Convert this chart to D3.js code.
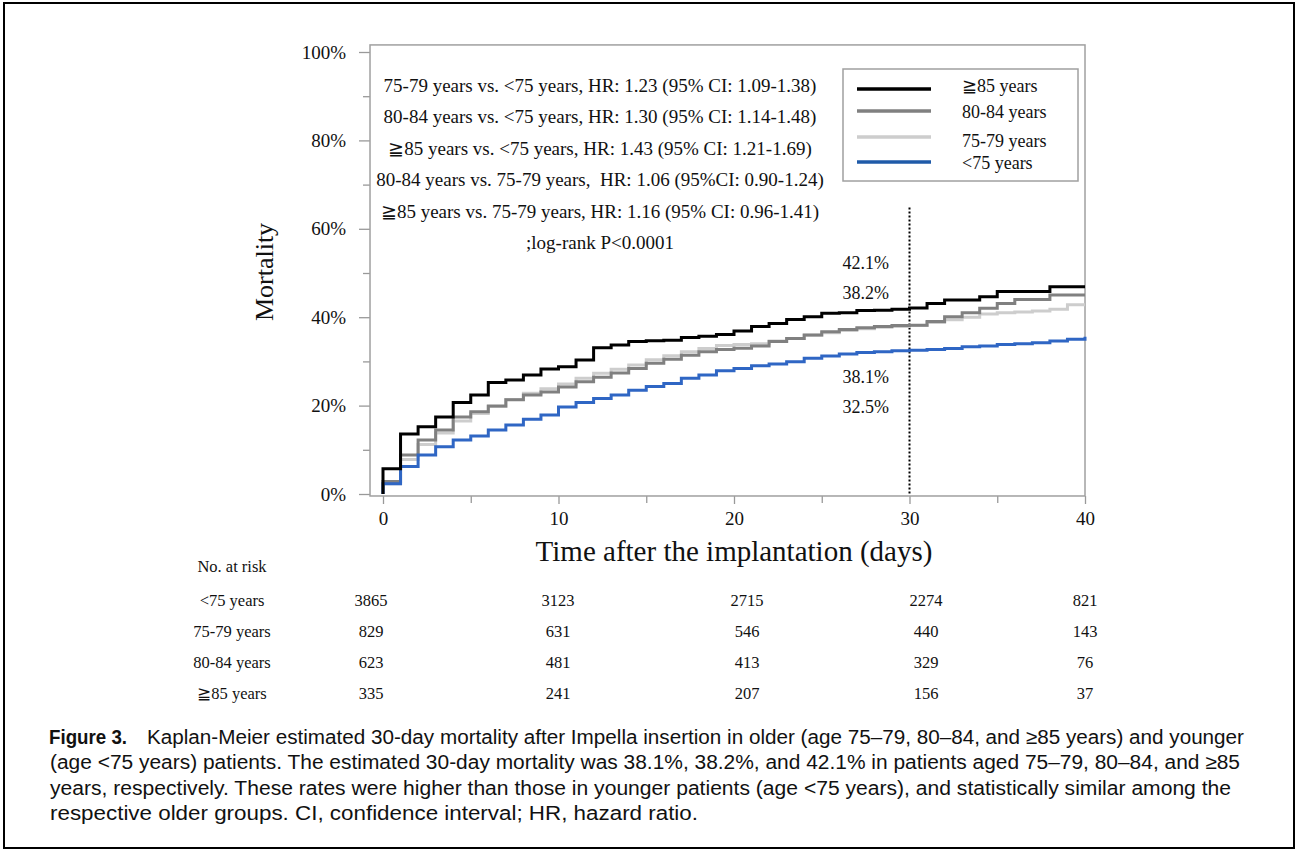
<!DOCTYPE html>
<html>
<head>
<meta charset="utf-8">
<script src="https://cdn.jsdelivr.net/npm/d3@7"></script>
<style>
  html, body { margin: 0; padding: 0; background: #fff; }
  svg { display: block; }
  .serif { font-family: "Liberation Serif", "Times New Roman", serif; fill: #111; }
  .axis text { font-family: "Liberation Serif", "Times New Roman", serif; font-size: 19px; fill: #111; }
  .axis line { stroke: #999; }
  .axis path { display: none; }
</style>
</head>
<body>
<svg id="viz" width="1298" height="857"></svg>
<script>
// Days 0..40, cumulative mortality (%) after each daily step
const days = d3.range(0, 41);
const groups = ["≧85 years", "80-84 years", "75-79 years", "<75 years"];
const mort85 = [5.7,13.6,15.2,17.4,20.7,22.4,25.2,25.8,26.9,28.3,28.8,
  30.3,33.1,33.7,34.5,34.7,34.8,35.4,35.7,36.1,36.9,
  37.9,38.6,39.5,40.1,40.9,41.0,41.5,41.6,41.8,42.1,
  43.1,43.9,43.9,44.6,45.8,45.8,45.8,46.9,46.9,46.9];
const mort80 = [2.8,8.8,12.2,14.5,17.4,18.6,19.9,21.3,22.4,23.1,24.2,
  25.4,26.4,27.4,28.4,29.6,30.5,31.4,32.2,32.7,33.0,
  33.5,34.5,35.2,36.0,36.7,37.2,37.6,37.9,38.1,38.2,
  39.0,40.1,41.0,42.0,43.1,44.0,44.0,45.0,45.0,45.0];
const mort75 = [2.3,7.8,11.2,13.8,16.5,18.2,19.8,21.4,22.8,23.8,24.9,
  26.2,27.3,28.2,29.2,30.4,31.3,32.2,32.9,33.6,33.8,
  34.0,34.6,35.2,35.9,36.5,37.0,37.4,37.7,37.9,38.1,
  38.8,39.4,40.0,40.7,41.0,41.2,41.4,41.8,42.8,42.8];
const mortU75 = [2.3,6.2,8.8,10.7,12.2,13.1,14.5,15.6,16.9,17.9,19.7,
  20.7,21.6,22.4,23.5,24.3,25.0,26.2,26.9,27.9,28.4,
  29.0,29.4,29.9,30.7,31.2,31.7,32.0,32.2,32.4,32.5,
  32.7,32.9,33.3,33.5,33.8,34.0,34.2,34.6,35.0,35.6];

const yTicks = [0, 20, 40, 60, 80, 100];
const yMinor = [10, 30, 50, 70, 90];
const xTicks = [0, 10, 20, 30, 40];
const xMinor = [5, 15, 25, 35];

const hrLines = [
  "75-79 years vs. <75 years, HR: 1.23 (95% CI: 1.09-1.38)",
  "80-84 years vs. <75 years, HR: 1.30 (95% CI: 1.14-1.48)",
  "≧85 years vs. <75 years, HR: 1.43 (95% CI: 1.21-1.69)",
  "80-84 years vs. 75-79 years,  HR: 1.06 (95%CI: 0.90-1.24)",
  "≧85 years vs. 75-79 years, HR: 1.16 (95% CI: 0.96-1.41)",
  ";log-rank P<0.0001"
];
const day30Labels = ["42.1%", "38.2%", "38.1%", "32.5%"];

const riskRows = ["<75 years", "75-79 years", "80-84 years", "≧85 years"];
const riskCounts = [
  [3865, 3123, 2715, 2274, 821],
  [829, 631, 546, 440, 143],
  [623, 481, 413, 329, 76],
  [335, 241, 207, 156, 37]
];

const captionLines = [
  "Kaplan-Meier estimated 30-day mortality after Impella insertion in older (age 75–79, 80–84, and ≥85 years) and younger",
  "(age <75 years) patients. The estimated 30-day mortality was 38.1%, 38.2%, and 42.1% in patients aged 75–79, 80–84, and ≥85",
  "years, respectively. These rates were higher than those in younger patients (age <75 years), and statistically similar among the",
  "respective older groups. CI, confidence interval; HR, hazard ratio."
];

// layout
const colors = ["#000000", "#808080", "#cdcdcd", "#2f66c4"];
const series = [mort85, mort80, mort75, mortU75];
const riskColX = [371, 558, 747, 926, 1085];
const capWidths = [1097, 1190, 1181, 648];

const svg = d3.select("#viz");

// outer figure border
svg.append("rect").attr("x", 4).attr("y", 3).attr("width", 1290).attr("height", 845)
  .attr("fill", "none").attr("stroke", "#000").attr("stroke-width", 2);

const x = d3.scaleLinear().domain([0, 40]).range([383, 1085]);
const y = d3.scaleLinear().domain([0, 100]).range([494, 52]);

const fx0 = x(-0.74), fx1 = x(40), fy0 = y(101.6), fy1 = y(-0.45);

// y axis
const gy = svg.append("g").attr("class", "axis").attr("transform", `translate(${fx0},0)`);
gy.call(d3.axisLeft(y).tickValues(yTicks).tickFormat(d => d + "%").tickSize(11).tickPadding(13));
gy.append("g").call(d3.axisLeft(y).tickValues(yMinor).tickFormat("").tickSize(7))
  .selectAll("path").remove();
gy.selectAll("line").attr("stroke", "#a0a0a0").attr("stroke-width", 1.3);
gy.selectAll("text").attr("font-size", 20);

// x axis
const gx = svg.append("g").attr("class", "axis").attr("transform", `translate(0,${fy1})`);
gx.call(d3.axisBottom(x).tickValues(xTicks).tickFormat(d3.format("d")).tickSize(8).tickPadding(8));
gx.append("g").call(d3.axisBottom(x).tickValues(xMinor).tickFormat("").tickSize(7))
  .selectAll("path").remove();
gx.selectAll("line").attr("stroke", "#a0a0a0").attr("stroke-width", 1.3);
gx.selectAll("text").attr("font-size", 20);

// frame
svg.append("rect").attr("x", fx0).attr("y", fy0).attr("width", fx1 - fx0).attr("height", fy1 - fy0)
  .attr("fill", "none").attr("stroke", "#a0a0a0").attr("stroke-width", 1.5);

// titles
svg.append("text").attr("class", "serif").attr("x", x(20)).attr("y", 561)
  .attr("text-anchor", "middle").attr("font-size", 29).text("Time after the implantation (days)");
svg.append("text").attr("class", "serif").attr("transform", "translate(273,272) rotate(-90)")
  .attr("text-anchor", "middle").attr("font-size", 26).text("Mortality");

// dotted 30-day line
svg.append("line").attr("x1", x(30)).attr("x2", x(30)).attr("y1", y(64.8)).attr("y2", y(0))
  .attr("stroke", "#000").attr("stroke-width", 2).attr("stroke-dasharray", "2,2");

// KM curves
const line = d3.line().x(d => x(d.t)).y(d => y(d.v)).curve(d3.curveStepAfter);
const drawOrder = [2, 1, 3, 0];
drawOrder.forEach(i => {
  const pts = [{t: 0, v: 0}].concat(days.map((t, j) => ({t, v: series[i][j]})));
  svg.append("path").attr("d", line(pts)).attr("fill", "none")
    .attr("stroke", colors[i]).attr("stroke-width", 3).attr("stroke-linejoin", "miter");
});

// HR text block
svg.append("g").selectAll("text").data(hrLines).join("text")
  .attr("class", "serif").attr("x", 600).attr("y", (d, i) => 92 + i * 31.4)
  .attr("text-anchor", "middle").attr("font-size", 19)
  .style("white-space", "pre").text(d => d);

// 30-day labels
const labY = [263, 293, 377, 407];
svg.append("g").selectAll("text").data(day30Labels).join("text")
  .attr("class", "serif").attr("x", 889).attr("y", (d, i) => labY[i] + 6)
  .attr("text-anchor", "end").attr("font-size", 18).text(d => d);

// legend
const lg = svg.append("g");
lg.append("rect").attr("x", 843).attr("y", 69).attr("width", 235).attr("height", 112)
  .attr("fill", "#fff").attr("stroke", "#a0a0a0").attr("stroke-width", 1.5);
const legY = [89, 111, 137, 162];
const legTY = [86, 112, 141, 163];
groups.forEach((g, i) => {
  lg.append("line").attr("x1", 857).attr("x2", 931).attr("y1", legY[i]).attr("y2", legY[i])
    .attr("stroke", i === 3 ? "#1f5aa8" : colors[i]).attr("stroke-width", 3.5);
  lg.append("text").attr("class", "serif").attr("x", 962).attr("y", legTY[i] + 6)
    .attr("font-size", 18).text(g);
});

// number at risk table
const tb = svg.append("g");
tb.append("text").attr("class", "serif").attr("x", 232).attr("y", 572)
  .attr("text-anchor", "middle").attr("font-size", 16.5).text("No. at risk");
riskRows.forEach((r, i) => {
  const ry = 606 + i * 31;
  tb.append("text").attr("class", "serif").attr("x", 232).attr("y", ry)
    .attr("text-anchor", "middle").attr("font-size", 16.5).text(r);
  riskCounts[i].forEach((c, j) => {
    tb.append("text").attr("class", "serif").attr("x", riskColX[j]).attr("y", ry)
      .attr("text-anchor", "middle").attr("font-size", 16.5).text(c);
  });
});

// caption
const cap = svg.append("g").style("font-family", "'Liberation Sans', Arial, sans-serif")
  .attr("font-size", 20).attr("fill", "#111");
cap.append("text").attr("x", 49).attr("y", 744)
  .style("font-family", "'Liberation Sans Narrow', 'Liberation Sans', sans-serif")
  .attr("font-weight", "bold").attr("font-size", 20)
  .attr("textLength", 78).attr("lengthAdjust", "spacingAndGlyphs").text("Figure 3.");
captionLines.forEach((t, i) => {
  cap.append("text").attr("x", i === 0 ? 147 : 50).attr("y", 744 + i * 25.3)
    .attr("textLength", capWidths[i]).attr("lengthAdjust", "spacingAndGlyphs").text(t);
});
</script>
</body>
</html>
